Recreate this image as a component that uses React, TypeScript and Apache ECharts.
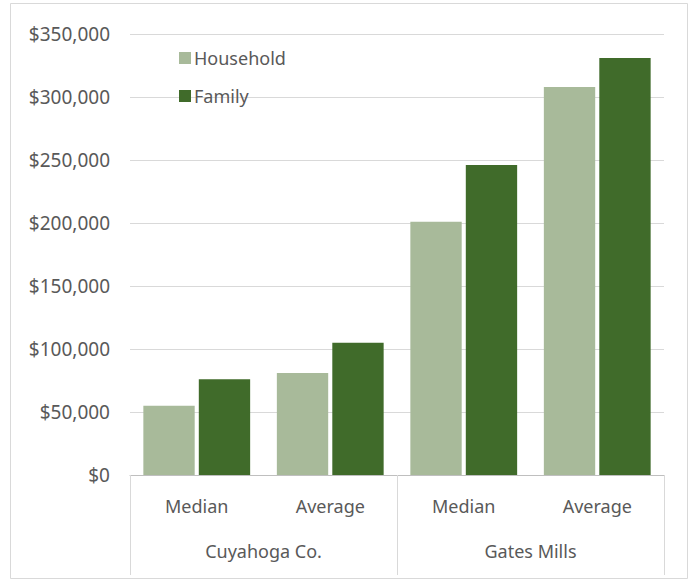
import React, { useEffect, useRef } from "react";
import * as echarts from "echarts";

const measures = ["Median", "Average", "Median", "Average"];
const groups = ["Cuyahoga Co.", "Gates Mills"];
const household = [55000, 81000, 201000, 308000];
const family = [76000, 105000, 246000, 331000];

const FONT = "'Noto Sans', sans-serif";
const TXT = "#595959";

export default function App() {
  const ref = useRef<HTMLDivElement>(null);
  useEffect(() => {
    const chart = echarts.init(ref.current!, null, { renderer: "svg" });
    chart.setOption({
      animation: false,
      backgroundColor: "#ffffff",
      textStyle: { fontFamily: FONT },
      graphic: [
        {
          type: "rect",
          shape: { x: 10.5, y: 3.5, width: 677, height: 575 },
          style: { fill: "none", stroke: "#d9d9d9", lineWidth: 1 },
          silent: true,
        },
      ],
      legend: {
        orient: "vertical",
        left: 174,
        top: 44,
        itemWidth: 12,
        itemHeight: 12,
        itemGap: 20,
        icon: "rect",
        textStyle: { color: TXT, fontSize: 18, fontFamily: FONT, padding: [0, 0, 0, -2] },
        data: ["Household", "Family"],
      },
      grid: { left: 130, right: 27, top: 34, bottom: 106, containLabel: false },
      xAxis: [
        {
          type: "category",
          data: measures,
          position: "bottom",
          axisLine: { show: true, lineStyle: { color: "#bfbfbf" } },
          axisTick: { show: false },
          axisLabel: { color: TXT, fontSize: 18, fontFamily: FONT, margin: 22 },
        },
        {
          type: "category",
          data: groups,
          position: "bottom",
          boundaryGap: true,
          axisLine: { show: false },
          axisTick: { show: true, length: 100, interval: 0, lineStyle: { color: "#d9d9d9" } },
          axisLabel: { color: TXT, fontSize: 18, fontFamily: FONT, margin: 67 },
        },
      ],
      yAxis: {
        type: "value",
        min: 0,
        max: 350000,
        interval: 50000,
        axisLine: { show: false },
        axisTick: { show: false },
        splitLine: { lineStyle: { color: "#d9d9d9" } },
        axisLabel: {
          color: TXT,
          fontSize: 19,
          fontFamily: FONT,
          margin: 20,
          formatter: (v: number) => "$" + v.toLocaleString("en-US"),
        },
      },
      series: [
        {
          name: "Household",
          type: "bar",
          xAxisIndex: 0,
          data: household,
          barGap: "8%",
          barCategoryGap: "20%",
          itemStyle: { color: "#a8ba9a" },
        },
        {
          name: "Family",
          type: "bar",
          xAxisIndex: 0,
          data: family,
          barGap: "8%",
          barCategoryGap: "20%",
          itemStyle: { color: "#406b2a" },
        },
      ],
    });
    return () => chart.dispose();
  }, []);
  return (
    <div
      ref={ref}
      style={{ position: "fixed", left: 0, top: 0, width: 691, height: 581 }}
    />
  );
}
